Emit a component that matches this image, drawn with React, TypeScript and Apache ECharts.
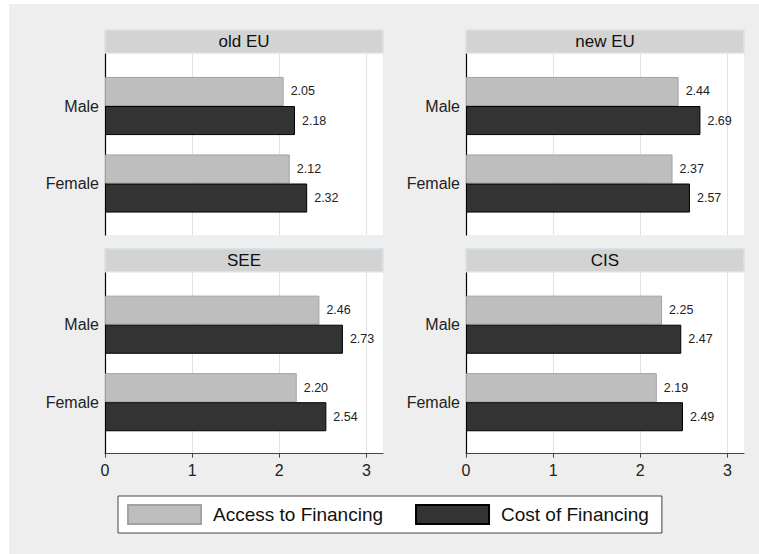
import React, { useEffect, useRef } from "react";
import * as echarts from "echarts";

const regions = ["old EU", "new EU", "SEE", "CIS"];
const categories = ["Male", "Female"];
const accessValues = [
  [2.05, 2.12],
  [2.44, 2.37],
  [2.46, 2.2],
  [2.25, 2.19],
];
const costValues = [
  [2.18, 2.32],
  [2.69, 2.57],
  [2.73, 2.54],
  [2.47, 2.49],
];
const xTicks = [0, 1, 2, 3];
const seriesNames = ["Access to Financing", "Cost of Financing"];

const FONT = "'Liberation Sans', Arial, Helvetica, sans-serif";

export default function App() {
  const ref = useRef<HTMLDivElement>(null);
  useEffect(() => {
    if (!ref.current) return;
    const chart = echarts.init(ref.current, undefined, { renderer: "svg" });

    const panelLeft = [105, 466, 105, 466];
    const panelTop = [53, 53, 271.7, 271.7];
    const W = 278;
    const H = 182;
    const XMAX = 3.19;

    const grid: any[] = [];
    const xAxis: any[] = [];
    const yAxis: any[] = [];
    const series: any[] = [];
    const graphic: any[] = [
      { type: "rect", shape: { x: 9, y: 4, width: 750, height: 550 }, style: { fill: "#eeeeee" }, z: -10 },
    ];

    regions.forEach((reg, i) => {
      const L = panelLeft[i];
      const T = panelTop[i];
      const bottomRow = i >= 2;
      // background grid
      grid.push({ left: L, top: T, width: W, height: H, show: true, backgroundColor: "#ffffff", borderWidth: 0, z: 0 });
      const bgIdx = grid.length - 1;
      xAxis.push({
        type: "value",
        gridIndex: bgIdx,
        min: 0,
        max: XMAX,
        interval: 1,
        axisLine: { show: bottomRow, lineStyle: { color: "#444", width: 1 } },
        axisTick: { show: bottomRow, length: 4, lineStyle: { color: "#444" } },
        axisLabel: {
          show: bottomRow,
          showMaxLabel: false,
          fontSize: 16,
          color: "#222",
          fontFamily: FONT,
          margin: 9,
          formatter: (v: number) => (xTicks.includes(v) ? String(v) : ""),
        },
        splitLine: { show: true, showMaxLine: false, showMinLine: false, lineStyle: { color: "#e2e2e2", width: 1 } },
      });
      yAxis.push({
        type: "value",
        gridIndex: bgIdx,
        min: 0,
        max: 1,
        axisLine: { show: true, lineStyle: { color: "#000", width: 1.2 } },
        axisTick: { show: false },
        axisLabel: { show: false },
        splitLine: { show: false },
      });
      // bar grid
      grid.push({ left: L, top: T + 14.25, width: W, height: 155, z: 2 });
      const barIdx = grid.length - 1;
      xAxis.push({ type: "value", gridIndex: barIdx, min: 0, max: XMAX, show: false });
      yAxis.push({
        type: "category",
        gridIndex: barIdx,
        data: categories,
        inverse: true,
        axisLine: { show: false },
        axisTick: { show: false },
        splitLine: { show: false },
        axisLabel: { fontSize: 16, color: "#222", fontFamily: FONT, margin: 6 },
      });
      const lbl = {
        show: true,
        position: "right",
        distance: 7,
        fontSize: 12.5,
        color: "#222",
        fontFamily: FONT,
        formatter: (p: any) => Number(p.value).toFixed(2),
      };
      series.push({
        type: "bar",
        name: seriesNames[0],
        xAxisIndex: barIdx,
        yAxisIndex: barIdx,
        data: accessValues[i],
        barGap: "0%",
        barCategoryGap: "25%",
        itemStyle: { color: "#bebebe", borderColor: "#a3a3a3", borderWidth: 1 },
        label: lbl,
      });
      series.push({
        type: "bar",
        name: seriesNames[1],
        xAxisIndex: barIdx,
        yAxisIndex: barIdx,
        data: costValues[i],
        barGap: "0%",
        barCategoryGap: "25%",
        itemStyle: { color: "#333333", borderColor: "#000000", borderWidth: 1 },
        label: lbl,
      });
      // header strip
      graphic.push({
        type: "rect",
        shape: { x: L, y: T - 23, width: W, height: 23 },
        style: { fill: "#d3d3d3", stroke: "#d7e3ea", lineWidth: 1.5 },
        z: 5,
      });
      graphic.push({
        type: "text",
        x: L + W / 2,
        y: T - 11.5,
        style: {
          text: reg,
          fontSize: 17,
          fontFamily: FONT,
          fill: "#111",
          textAlign: "center",
          textVerticalAlign: "middle",
        },
        z: 6,
      });
    });

    chart.setOption({
      animation: false,
      backgroundColor: "#ffffff",
      grid,
      xAxis,
      yAxis,
      series,
      graphic,
      legend: {
        data: seriesNames,
        left: 118,
        top: 496,
        orient: "horizontal",
        icon: "rect",
        itemWidth: 73,
        itemHeight: 19,
        itemGap: 32,
        padding: [8, 13, 8, 9],
        borderColor: "#444",
        borderWidth: 1,
        borderRadius: 0,
        backgroundColor: "#ffffff",
        textStyle: { fontSize: 19, color: "#111", fontFamily: FONT, lineHeight: 20, padding: [0, 0, 0, 7] },
      },
    });
    return () => chart.dispose();
  }, []);
  return <div ref={ref} style={{ position: "absolute", left: 0, top: 0, width: 759, height: 554 }} />;
}
